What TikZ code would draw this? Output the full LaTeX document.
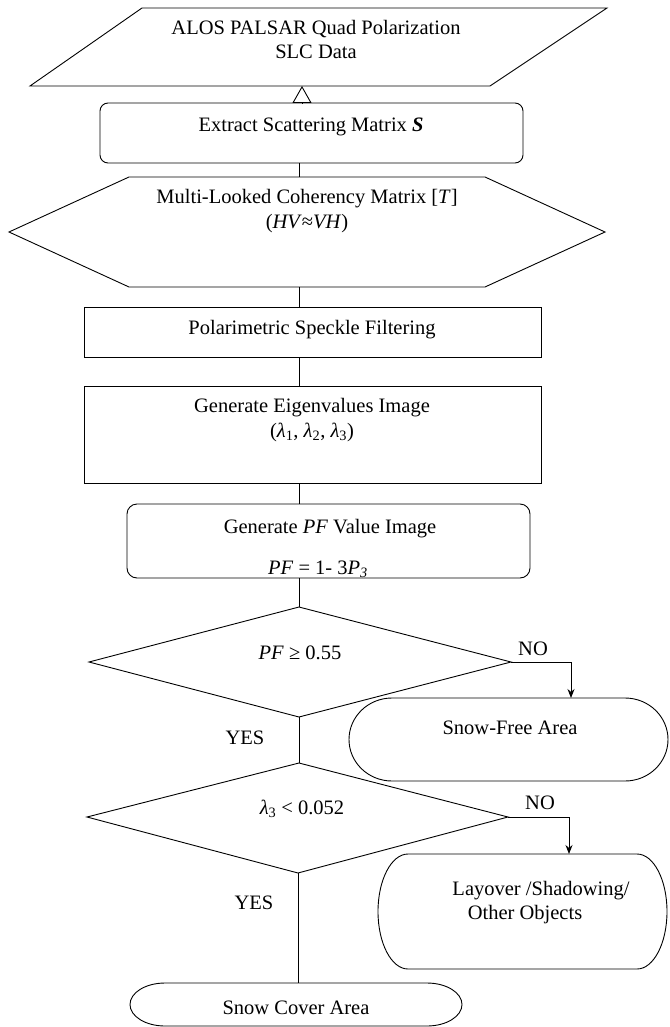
\documentclass[tikz,border=0pt]{standalone}
\usepackage{fontspec}
\setmainfont{Liberation Serif}
\usetikzlibrary{arrows.meta,calc}
\begin{document}
\begin{tikzpicture}[x=1pt,y=1pt]
\tikzset{
  ln/.style={line width=0.9pt, line join=miter},
  box/.style={draw, line width=0.9pt, inner sep=0pt, outer sep=0pt},
  lbl/.style={font=\fontsize{20.5}{24}\selectfont, anchor=base, inner sep=0pt},
  arr/.style={line width=0.9pt, -{Stealth[length=9pt,width=7pt]}},
  opentip/.style={line width=0.9pt, -{Triangle[open,length=17pt,width=19pt]}}
}
\useasboundingbox (0,0) rectangle (669,-1027);
\coordinate (cx) at (299,0);

% input data (parallelogram)
\coordinate (dA) at (142,-8);
\coordinate (dB) at (607,-8);
\coordinate (dC) at (490,-86);
\coordinate (dD) at (30,-86);
\coordinate (dS) at (302,-86);
\draw[ln] (dA) -- (dB) -- (dC) -- (dD) -- cycle;
\node[lbl] (t1a) at (316,-35) {ALOS PALSAR Quad Polarization};
\node[lbl] (t1b) at (316,-59) {SLC Data};

% extract
\node[box, rounded corners=8pt, minimum width=423pt, minimum height=60pt] (ext) at (311.5,-133) {};
\node[lbl] (t2) at (311,-132) {Extract Scattering Matrix \textbf{\textit{S}}};
\coordinate (extN) at (302,-103);
\draw[opentip] (extN) -- (dS);

% hexagon
\coordinate (h1) at (129,-177);
\coordinate (h2) at (485,-177);
\coordinate (h3) at (605,-232);
\coordinate (h4) at (485,-287);
\coordinate (h5) at (129,-287);
\coordinate (h6) at (9,-232);
\coordinate (hexN) at (299,-177);
\coordinate (hexS) at (299,-287);
\draw[ln] (h1) -- (h2) -- (h3) -- (h4) -- (h5) -- (h6) -- cycle;
\node[lbl] (t3a) at (307,-204) {Multi-Looked Coherency Matrix [\textit{T}]};
\node[lbl] (t3b) at (307,-228) {(\textit{HV}≈\textit{VH})};
\draw[ln] (ext.south -| cx) -- (hexN);

% speckle
\node[box, minimum width=457pt, minimum height=50pt] (spk) at (312.5,-332) {};
\node[lbl] (t4) at (312,-334) {Polarimetric Speckle Filtering};
\draw[ln] (hexS) -- (spk.north -| cx);

% eigen
\node[box, minimum width=457pt, minimum height=97pt] (eig) at (312.5,-434.5) {};
\node[lbl] (t5a) at (312,-412) {Generate Eigenvalues Image};
\node[lbl] (t5b) at (312,-437) {(\textit{λ}\textsubscript{1}, \textit{λ}\textsubscript{2}, \textit{λ}\textsubscript{3})};
\draw[ln] (spk.south -| cx) -- (eig.north -| cx);

% PF
\node[box, rounded corners=10pt, minimum width=403pt, minimum height=74pt] (pf) at (328.5,-541) {};
\node[lbl] (t6a) at (330,-533) {Generate \textit{PF} Value Image};
\node[lbl] (t6b) at (318,-574) {\textit{PF} = 1- 3\textit{P}\textsubscript{\textit{3}}};
\draw[ln] (eig.south -| cx) -- (pf.north -| cx);

% diamond 1
\coordinate (d1T) at (299,-607);
\coordinate (d1R) at (511,-662);
\coordinate (d1B) at (299,-717);
\coordinate (d1L) at (89,-662);
\draw[ln] (d1T) -- (d1R) -- (d1B) -- (d1L) -- cycle;
\node[lbl] (t7) at (300,-659) {\textit{PF} ≥ 0.55};
\draw[ln] (pf.south -| cx) -- (d1T);

% snow-free
\coordinate (sfT) at (571,-698);
\draw[ln] (392,-698) -- (625,-698) arc[start angle=90,end angle=-90,x radius=43pt,y radius=41.5pt]
  -- (392,-781) arc[start angle=270,end angle=90,x radius=43pt,y radius=41.5pt] -- cycle;
\node[lbl] (t8) at (510,-734) {Snow-Free Area};
\draw[arr] (d1R) -| (sfT);
\node[lbl] (no1) at (533,-655) {NO};
\node[lbl] (yes1) at (245,-744) {YES};

% diamond 2
\coordinate (d2T) at (299,-763);
\coordinate (d2R) at (508,-817);
\coordinate (d2B) at (298,-873);
\coordinate (d2L) at (87,-817);
\draw[ln] (d2T) -- (d2R) -- (d2B) -- (d2L) -- cycle;
\node[lbl] (t9) at (302,-814) {\textit{λ}\textsubscript{3} < 0.052};
\draw[ln] (d1B) -- (d2T);

% layover
\coordinate (lyT) at (569,-854);
\draw[ln] (408,-854) -- (637,-854) arc[start angle=90,end angle=-90,x radius=30pt,y radius=57.5pt]
  -- (408,-969) arc[start angle=270,end angle=90,x radius=30pt,y radius=57.5pt] -- cycle;
\node[lbl] (t10a) at (541,-895) {Layover /Shadowing/};
\node[lbl] (t10b) at (525,-919) {Other Objects};
\draw[arr] (d2R) -| (lyT);
\node[lbl] (no2) at (540,-809) {NO};
\node[lbl] (yes2) at (254,-909) {YES};

% snow cover
\coordinate (scT) at (298,-983);
\draw[ln] (165,-983) -- (427,-983) arc[start angle=90,end angle=-90,x radius=35pt,y radius=21.5pt]
  -- (165,-1026) arc[start angle=270,end angle=90,x radius=35pt,y radius=21.5pt] -- cycle;
\node[lbl] (t11) at (296,-1014) {Snow Cover Area};
\draw[ln] (d2B) -- (scT);
\end{tikzpicture}
\end{document}
